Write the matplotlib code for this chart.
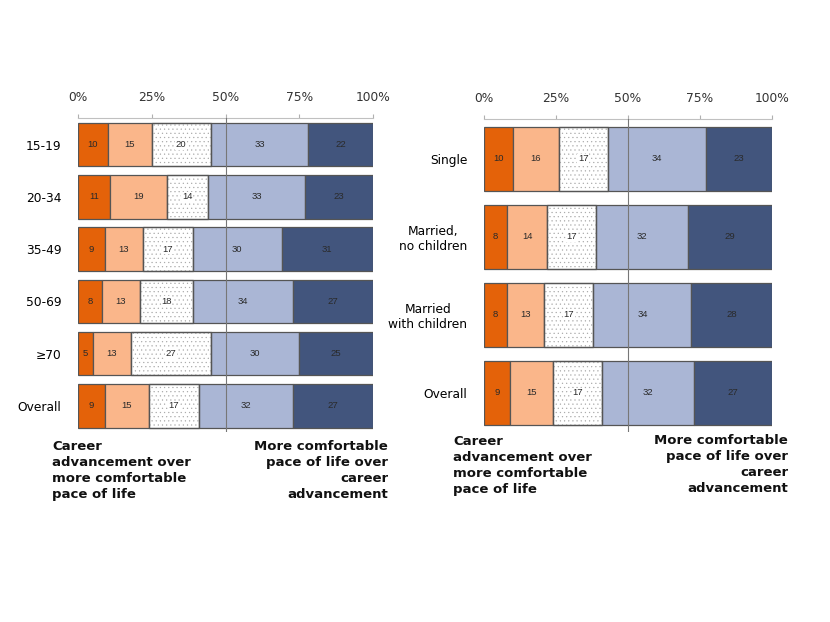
import numpy as np
import matplotlib.pyplot as plt

plt.rcParams['hatch.linewidth'] = 0.35

# age groups
age_groups = ['15-19', '20-34', '35-49', '50-69', '\u226570', 'Overall']
age_vals = [
    [10, 15, 20, 33, 22],
    [11, 19, 14, 33, 23],
    [9, 13, 17, 30, 31],
    [8, 13, 18, 34, 27],
    [5, 13, 27, 30, 25],
    [9, 15, 17, 32, 27],
]

# marital status
status_groups = ['Single', 'Married,\nno children', 'Married\nwith children', 'Overall']
status_vals = [
    [10, 16, 17, 34, 23],
    [8, 14, 17, 32, 29],
    [8, 13, 17, 34, 28],
    [9, 15, 17, 32, 27],
]

seg_colors = ['#E46209', '#FAB68A', '#FFFFFF', '#AAB6D5', '#42557D']
tick_vals = [0, 25, 50, 75, 100]
tick_labels = ['0%', '25%', '50%', '75%', '100%']

left_note = 'Career\nadvancement over\nmore comfortable\npace of life'
right_note = 'More comfortable\npace of life over\ncareer\nadvancement'


def draw_panel(ax, labels, values, height):
    vals = np.array(values, dtype=float)
    pct = vals / vals.sum(axis=1, keepdims=True) * 100
    y = np.arange(len(labels))
    left = np.zeros(len(labels))
    for j in range(pct.shape[1]):
        ax.barh(y, pct[:, j], left=left, height=height, color=seg_colors[j],
                edgecolor='#555555', linewidth=0.9, zorder=2)
        if j == 2:
            # dotted fill
            ax.barh(y, pct[:, j], left=left, height=height, facecolor='none',
                    edgecolor='#a8a8a8', linewidth=0, hatch='....', zorder=2.5)
            ax.barh(y, pct[:, j], left=left, height=height, facecolor='none',
                    edgecolor='#555555', linewidth=0.9, zorder=2.6)
        for i in range(len(labels)):
            ax.text(left[i] + pct[i, j] / 2, y[i], '%d' % vals[i, j],
                    ha='center', va='center', fontsize=6.8,
                    family='Liberation Sans', color='#2a2a2a', zorder=4,
                    bbox=dict(facecolor='white', edgecolor='none', pad=0.5) if j == 2 else None)
        left += pct[:, j]

    ax.axvline(50, color='#777777', linewidth=0.8, zorder=3)
    ax.set_xlim(0, 100)
    ax.set_ylim(len(labels) - 0.5, -0.51)
    ax.xaxis.tick_top()
    ax.set_xticks(tick_vals)
    ax.set_xticklabels(tick_labels, fontsize=8.8, color='#333333')
    ax.tick_params(axis='x', length=3, color='#b0b0b0', pad=7)
    ax.set_yticks(y)
    ax.set_yticklabels(labels, fontsize=8.8, multialignment='center')
    ax.tick_params(axis='y', length=0, pad=12)
    for s in ['bottom', 'left', 'right']:
        ax.spines[s].set_visible(False)
    ax.spines['top'].set_color('#c0c0c0')
    ax.spines['top'].set_linewidth(0.8)


fig = plt.figure(figsize=(8.3, 6.22), dpi=100)

ax1 = fig.add_axes([78 / 830, 1 - 432 / 622, 295 / 830, 314 / 622])
draw_panel(ax1, age_groups, age_vals, 0.83)

ax2 = fig.add_axes([484 / 830, 1 - 432 / 622, 288 / 830, 313 / 622])
draw_panel(ax2, status_groups, status_vals, 0.82)

note_kw = dict(fontsize=9.5, fontweight='bold', va='top', linespacing=1.3,
               family='DejaVu Sans', color='#111111')
fig.text(52 / 830, 1 - 440 / 622, left_note, ha='left', **note_kw)
fig.text(388 / 830, 1 - 440 / 622, right_note, ha='right', multialignment='right', **note_kw)
fig.text(453 / 830, 1 - 435 / 622, left_note, ha='left', **note_kw)
fig.text(788 / 830, 1 - 434 / 622, right_note, ha='right', multialignment='right', **note_kw)

fig.savefig('out.png', dpi=100)
